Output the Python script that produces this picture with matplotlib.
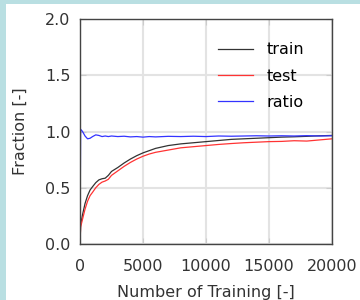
import matplotlib
matplotlib.use("Agg")
import matplotlib.pyplot as plt
from matplotlib.patches import Rectangle

# number of training samples
n_train = [0, 50, 200, 400, 600, 800, 1000, 1250, 1500, 1750, 2000, 2250, 2500,
           3000, 3500, 4000, 4500, 5000, 5500, 6000, 7000, 8000, 9000, 10000,
           11000, 12000, 13000, 14000, 15000, 16000, 17000, 18000, 19000, 20000]

frac_train = [0.0, 0.17, 0.26, 0.36, 0.43, 0.48, 0.51, 0.545, 0.57, 0.58, 0.585, 0.61, 0.645,
              0.68, 0.72, 0.755, 0.785, 0.81, 0.83, 0.85, 0.875, 0.89, 0.90, 0.91,
              0.92, 0.93, 0.935, 0.94, 0.945, 0.95, 0.953, 0.957, 0.962, 0.965]

frac_test = [0.0, 0.15, 0.22, 0.31, 0.38, 0.43, 0.46, 0.50, 0.53, 0.55, 0.56, 0.575, 0.61,
             0.65, 0.69, 0.725, 0.755, 0.78, 0.80, 0.815, 0.835, 0.855, 0.865, 0.875,
             0.885, 0.893, 0.90, 0.905, 0.91, 0.912, 0.918, 0.915, 0.925, 0.935]

ratio = [0.0, 1.02, 1.0, 0.96, 0.935, 0.94, 0.955, 0.97, 0.965, 0.955, 0.96, 0.955, 0.96,
         0.955, 0.958, 0.952, 0.955, 0.95, 0.955, 0.952, 0.957, 0.955, 0.958, 0.955,
         0.96, 0.958, 0.96, 0.962, 0.96, 0.962, 0.96, 0.963, 0.96, 0.962]

fs = 11.5

fig = plt.figure(figsize=(3.6, 3.0), dpi=100, facecolor="#b9dfe2")
# white page on the teal background
fig.patches.append(Rectangle((6/360, 0), 1, 1 - 3.5/300, transform=fig.transFigure,
                             facecolor="white", edgecolor="none", zorder=-10))

ax = fig.add_axes([80/360, 1 - 244/300, 252/360, 225/300])
ax.plot(n_train, frac_train, color="#333333", lw=0.9, label="train")
ax.plot(n_train, frac_test, color="#ff3333", lw=0.9, label="test")
ax.plot(n_train, ratio, color="#3333ff", lw=0.9, label="ratio")

ax.set_xlim(0, 20000)
ax.set_ylim(0, 2.0)
ax.set_xticks([0, 5000, 10000, 15000, 20000])
ax.set_yticks([0.0, 0.5, 1.0, 1.5, 2.0])
ax.grid(True, color="#e3e3e3", lw=1.5)
ax.set_axisbelow(True)
ax.tick_params(direction="in", length=4, color="#cccccc", top=True, right=True,
               labelsize=fs, labelcolor="#333333", pad=7)
ax.tick_params(axis="x", pad=10.5)
for s in ax.spines.values():
    s.set_color("#444444")
    s.set_linewidth(1.0)

ax.set_xlabel("Number of Training [-]", fontsize=fs, color="#333333", labelpad=8)
ax.set_ylabel("Fraction [-]", fontsize=fs, color="#333333", labelpad=12)

ax.legend(loc="upper right", frameon=False, fontsize=fs, labelspacing=0.7,
          handlelength=2.2, handletextpad=0.8, bbox_to_anchor=(0.945, 0.96))

fig.savefig("out.png", dpi=100, facecolor=fig.get_facecolor())
